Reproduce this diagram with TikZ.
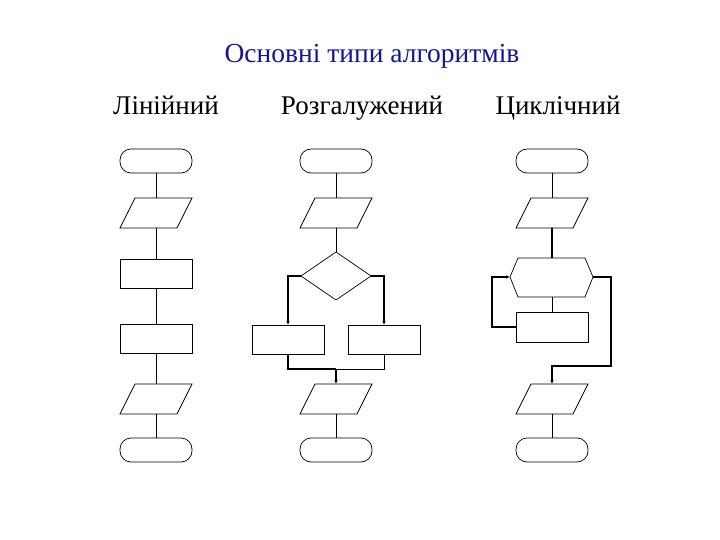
\documentclass[tikz,border=0pt]{standalone}
\usepackage{fontspec}
\setmainfont{Liberation Serif}
\usetikzlibrary{arrows.meta}
\begin{document}
\begin{tikzpicture}[x=1pt,y=-1pt,
  shp/.style={draw,line width=0.7pt},
  ln/.style={line width=0.7pt},
  th/.style={line width=1.4pt},
  arr/.style={th,-{Latex[length=4pt,width=3.5pt]}},
  lbl/.style={anchor=base,font=\fontsize{27}{30}\selectfont}]
\useasboundingbox (0,0) rectangle (720,540);
\node[anchor=base,text={rgb,255:red,20;green,20;blue,150},font=\fontsize{27.5}{30}\selectfont] (title) at (372,63) {Основні типи алгоритмів};
\node[lbl] (l1) at (166,115) {Лінійний};
\node[lbl] (l2) at (362,115) {Розгалужений};
\node[lbl] (l3) at (558,115) {Циклічний};
\newcommand{\term}[3]{\draw[shp,rounded corners=11pt] (#1-36,#2) rectangle (#1+36,#2+24); \coordinate (#3t) at (#1,#2); \coordinate (#3b) at (#1,#2+24);}
\newcommand{\para}[3]{\draw[shp] (#1-21,#2) -- (#1+36,#2) -- (#1+21,#2+30) -- (#1-36,#2+30) -- cycle; \coordinate (#3t) at (#1,#2); \coordinate (#3b) at (#1,#2+30);}
\newcommand{\rect}[3]{\draw[shp] (#1-36,#2) rectangle (#1+36,#2+29); \coordinate (#3t) at (#1,#2); \coordinate (#3b) at (#1,#2+29);}
% Linear
\term{156}{149}{a1}
\para{156}{198}{a2}
\rect{156}{259}{a3}
\rect{156}{324}{a4}
\para{156}{384}{a5}
\term{156}{438}{a6}
\draw[ln] (a1b)--(a2t) (a2b)--(a3t) (a3b)--(a4t) (a4b)--(a5t) (a5b)--(a6t);
% Branching
\term{336}{149}{b1}
\para{336}{198}{b2}
\draw[shp] (336,252) -- (371,276) -- (336,300) -- (301,276) -- cycle;
\coordinate (dt) at (336,252); \coordinate (dl) at (301,276); \coordinate (dr) at (371,276);
\rect{288}{325}{b3}
\rect{384}{325}{b4}
\para{336}{384}{b5}
\term{336}{438}{b6}
\draw[ln] (b1b)--(b2t) (b2b)--(dt) (b5b)--(b6t);
\draw[arr] (dl) -| (b3t);
\draw[arr] (dr) -| (b4t);
\draw[th] (b3b) |- (336,369);
\draw[ln] (b4b) |- (336,369);
\draw[arr] (336,369) -- (b5t);
% Cycle
\term{552}{149}{c1}
\para{552}{198}{c2}
\draw[shp] (518,258) -- (585,258) -- (593,277) -- (585,297) -- (518,297) -- (510,277) -- cycle;
\coordinate (ht) at (552,258); \coordinate (hb) at (552,297); \coordinate (hl) at (510,277); \coordinate (hr) at (593,277);
\draw[shp] (516,312) rectangle (588,342);
\coordinate (c3t) at (552,312); \coordinate (c3l) at (516,327);
\para{552}{384}{c5}
\term{552}{438}{c6}
\draw[ln] (c1b)--(c2t) (hb)--(c3t) (c5b)--(c6t);
\draw[th] (c2b)--(ht);
\draw[arr] (c3l) -- (492,327) |- (hl);
\draw[arr] (hr) -- (611,277) |- (552,366) -- (c5t);
\end{tikzpicture}
\end{document}
